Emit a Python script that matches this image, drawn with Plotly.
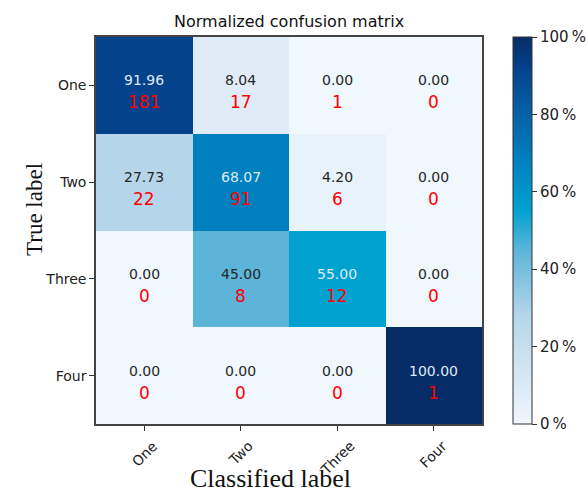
import plotly.graph_objects as go

labels = ["One", "Two", "Three", "Four"]
percent = [
    [91.96, 8.04, 0.00, 0.00],
    [27.73, 68.07, 4.20, 0.00],
    [0.00, 45.00, 55.00, 0.00],
    [0.00, 0.00, 0.00, 100.00],
]
counts = [
    [181, 17, 1, 0],
    [22, 91, 6, 0],
    [0, 8, 12, 0],
    [0, 0, 0, 1],
]
cbar_ticks = [0, 20, 40, 60, 80, 100]
cbar_text = [f"{v}\u2009%" for v in cbar_ticks]

blues = [
    [0.00, "#f0f7fd"],
    [0.04, "#e8f2fa"],
    [0.08, "#dfecf7"],
    [0.28, "#b4d6ea"],
    [0.45, "#5cb4d9"],
    [0.55, "#00a3d0"],
    [0.68, "#0080bf"],
    [0.80, "#0662a6"],
    [0.92, "#04428c"],
    [1.00, "#062c68"],
]

fig = go.Figure(go.Heatmap(
    z=percent,
    x=labels,
    y=labels,
    zmin=0,
    zmax=100,
    colorscale=blues,
    hoverinfo="skip",
    colorbar=dict(
        x=1.08, xanchor="left", xpad=0, y=0.5, yanchor="middle", ypad=0,
        len=1.0, lenmode="fraction", thickness=19,
        outlinewidth=1, outlinecolor="#333333",
        tickmode="array", tickvals=cbar_ticks, ticktext=cbar_text,
        ticks="outside", ticklen=5, tickcolor="#333333",
        tickfont=dict(family="DejaVu Sans", size=15, color="#222222"),
    ),
))

for i, row_label in enumerate(labels):
    for j, col_label in enumerate(labels):
        p = percent[i][j]
        fig.add_annotation(
            x=col_label, y=row_label, text=f"{p:.2f}", showarrow=False,
            yshift=5,
            font=dict(family="DejaVu Sans", size=14,
                      color="#dfe9f5" if p > 50 else "#262626"),
        )
        fig.add_annotation(
            x=col_label, y=row_label, text=str(counts[i][j]), showarrow=False,
            yshift=-17,
            font=dict(family="DejaVu Sans", size=17, color="#ff0000"),
        )

# rotated category labels centred under each tick
for lab in labels:
    fig.add_annotation(
        x=lab, xref="x", y=0, yref="paper", yshift=-11,
        xanchor="center", yanchor="top", textangle=-45, showarrow=False,
        text=lab, font=dict(family="DejaVu Sans", size=14, color="#222222"),
    )

fig.add_annotation(
    xref="paper", yref="paper", x=0.5, y=1.0, yshift=4,
    yanchor="bottom", showarrow=False, text="Normalized confusion matrix",
    font=dict(family="DejaVu Sans", size=16, color="#111111"),
)
fig.add_annotation(
    xref="paper", yref="paper", x=0.452, y=0, yshift=-54,
    yanchor="middle", showarrow=False, text="Classified label",
    font=dict(family="Liberation Serif", size=26, color="#111111"),
)
fig.add_annotation(
    xref="paper", yref="paper", x=0, xshift=-61, y=0.553,
    xanchor="center", yanchor="middle", textangle=-90, showarrow=False,
    text="True label",
    font=dict(family="Liberation Serif", size=23, color="#111111"),
)

axis_common = dict(
    showgrid=False, zeroline=False, showline=True, mirror=True,
    linecolor="#444444", linewidth=1.5, ticks="outside", ticklen=5,
    tickcolor="#333333",
    tickfont=dict(family="DejaVu Sans", size=14, color="#222222"),
)
fig.update_xaxes(showticklabels=False, **axis_common)
fig.update_yaxes(autorange="reversed", **axis_common)

fig.update_layout(
    width=586, height=493,
    margin=dict(l=96, r=104, t=37, b=69, autoexpand=False),
    paper_bgcolor="white", plot_bgcolor="white",
    showlegend=False,
)

fig.write_html("out.html")
